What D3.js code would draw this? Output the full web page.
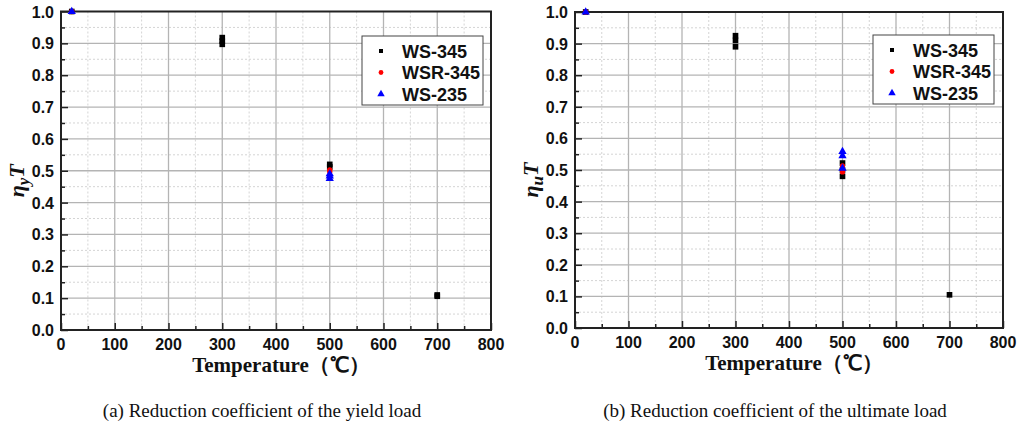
<!DOCTYPE html>
<html>
<head>
<meta charset="utf-8">
<script src="https://cdn.jsdelivr.net/npm/d3@7"></script>
<style>
  body { margin: 0; background: #fff; }
  svg { display: block; }
  .tick-label { font-family: Arial, "Liberation Sans", sans-serif; font-weight: bold; font-size: 16px; fill: #111; }
  .legend-text { font-family: Arial, "Liberation Sans", sans-serif; font-weight: bold; font-size: 18px; fill: #111; }
  .serif { font-family: "Times New Roman", "Liberation Serif", serif; }
</style>
</head>
<body>
<svg id="chart" width="1020" height="427"></svg>
<script>
// axis ticks
const xTicks = [0, 100, 200, 300, 400, 500, 600, 700, 800];
const yTicks = [0.0, 0.1, 0.2, 0.3, 0.4, 0.5, 0.6, 0.7, 0.8, 0.9, 1.0];
const seriesNames = ["WS-345", "WSR-345", "WS-235"];

// (a) yield load reduction coefficient: [temperature, value]
const yieldWS345 = [[20, 1.0], [300, 0.918], [300, 0.907], [300, 0.897], [500, 0.52], [500, 0.512], [700, 0.11], [700, 0.106]];
const yieldWSR345 = [[20, 1.0], [500, 0.503], [500, 0.497]];
const yieldWS235 = [[20, 1.0], [500, 0.49], [500, 0.483], [500, 0.475]];

// (b) ultimate load reduction coefficient
const ultWS345 = [[20, 1.0], [300, 0.925], [300, 0.91], [300, 0.89], [500, 0.522], [500, 0.5], [500, 0.48], [700, 0.105]];
const ultWSR345 = [[20, 1.0], [500, 0.513], [500, 0.494]];
const ultWS235 = [[20, 1.0], [500, 0.558], [500, 0.545], [500, 0.505]];

const colors = ["#000", "#ff0000", "#0000ff"];

const svg = d3.select("#chart");

function drawPanel(opt) {
  const x = d3.scaleLinear().domain([0, 800]).range([opt.left, opt.right]);
  const y = d3.scaleLinear().domain([0, 1]).range([opt.bottom, opt.top]);
  const g = svg.append("g");

  // minor grid (dotted)
  const minorX = d3.range(50, 800, 100);
  const minorY = d3.range(0.05, 1, 0.1);
  g.selectAll(".mgx").data(minorX).enter().append("line")
    .attr("x1", d => x(d)).attr("x2", d => x(d))
    .attr("y1", opt.top).attr("y2", opt.bottom)
    .attr("stroke", "#d4d4d4").attr("stroke-dasharray", "2,2");
  g.selectAll(".mgy").data(minorY).enter().append("line")
    .attr("x1", opt.left).attr("x2", opt.right)
    .attr("y1", d => y(d)).attr("y2", d => y(d))
    .attr("stroke", "#d4d4d4").attr("stroke-dasharray", "2,2");

  // major grid
  g.selectAll(".gx").data(xTicks.slice(1, -1)).enter().append("line")
    .attr("x1", d => x(d)).attr("x2", d => x(d))
    .attr("y1", opt.top).attr("y2", opt.bottom)
    .attr("stroke", "#b4b4b4").attr("stroke-width", 1.3);
  g.selectAll(".gy").data(yTicks.slice(1, -1)).enter().append("line")
    .attr("x1", opt.left).attr("x2", opt.right)
    .attr("y1", d => y(d)).attr("y2", d => y(d))
    .attr("stroke", "#b4b4b4").attr("stroke-width", 1.3);

  // axes with inward ticks
  const xAxis = d3.axisBottom(x).tickValues(d3.range(0, 801, 50)).tickSize(-6).tickFormat("");
  const yAxis = d3.axisLeft(y).tickValues(d3.range(0, 1.001, 0.05)).tickSize(-6).tickFormat("");
  const gx = g.append("g").attr("transform", `translate(0,${opt.bottom})`).call(xAxis);
  const gy = g.append("g").attr("transform", `translate(${opt.left},0)`).call(yAxis);
  [gx, gy].forEach(a => {
    a.select(".domain").remove();
    a.selectAll(".tick line").attr("stroke", "#222").attr("stroke-width", 1.5);
  });
  gx.selectAll(".tick line").attr("y2", (d) => d % 100 === 0 ? -7 : -4);
  gy.selectAll(".tick line").attr("x2", (d) => Math.round(d * 100) % 10 === 0 ? 7 : 4);

  // frame
  g.append("rect")
    .attr("x", opt.left).attr("y", opt.top)
    .attr("width", opt.right - opt.left).attr("height", opt.bottom - opt.top)
    .attr("fill", "none").attr("stroke", "#222").attr("stroke-width", 2);

  // tick labels
  g.selectAll(".xl").data(xTicks).enter().append("text")
    .attr("class", "tick-label")
    .attr("x", d => x(d)).attr("y", opt.bottom + 20)
    .attr("text-anchor", "middle")
    .text(d => d);
  g.selectAll(".yl").data(yTicks).enter().append("text")
    .attr("class", "tick-label")
    .attr("x", opt.left - 7).attr("y", d => y(d) + 6)
    .attr("text-anchor", "end")
    .text(d => d.toFixed(1));

  // data points
  const sq = d3.symbol().type(d3.symbolSquare).size(32);
  const ci = d3.symbol().type(d3.symbolCircle).size(22);
  const tr = d3.symbol().type(d3.symbolTriangle).size(30);
  const shapes = [sq, ci, tr];
  opt.series.forEach((s, i) => {
    g.selectAll(null).data(s).enter().append("path")
      .attr("d", shapes[i])
      .attr("transform", d => `translate(${x(d[0])},${y(d[1])})`)
      .attr("fill", colors[i]);
  });

  // legend
  const lg = g.append("g").attr("transform", `translate(${opt.legendX},${opt.legendY})`);
  lg.append("rect").attr("width", 121).attr("height", 69)
    .attr("fill", "#fff").attr("stroke", "#444").attr("stroke-width", 1);
  seriesNames.forEach((n, i) => {
    const yy = 15 + i * 21.5;
    const sym = [d3.symbol().type(d3.symbolSquare).size(16),
                 d3.symbol().type(d3.symbolCircle).size(18),
                 d3.symbol().type(d3.symbolTriangle).size(24)][i];
    lg.append("path").attr("d", sym).attr("transform", `translate(19,${yy})`).attr("fill", colors[i]);
    lg.append("text").attr("class", "legend-text").attr("x", 40).attr("y", yy + 6.5).text(n);
  });

  // y axis title: eta with subscript, T
  const yt = g.append("text")
    .attr("class", "serif")
    .attr("transform", `translate(${opt.ytitleX},${(opt.top + opt.bottom) / 2 + 10}) rotate(-90)`)
    .attr("text-anchor", "middle")
    .attr("font-size", 22).attr("font-style", "italic").attr("font-weight", "bold").attr("fill", "#111");
  yt.append("tspan").text("η");
  yt.append("tspan").attr("dy", 5).attr("font-size", 17).text(opt.sub);
  yt.append("tspan").attr("dy", -5).text("T");

  // x axis title
  g.append("text").attr("class", "serif")
    .attr("x", (opt.left + opt.right) / 2 + 5).attr("y", opt.bottom + 42)
    .attr("text-anchor", "middle")
    .attr("font-size", 21).attr("font-weight", "bold").attr("fill", "#111")
    .text("Temperature（℃）");

  // caption
  g.append("text").attr("class", "serif")
    .attr("x", opt.captionX).attr("y", 417)
    .attr("text-anchor", "middle")
    .attr("font-size", 19).attr("fill", "#111")
    .text(opt.caption);
}

drawPanel({
  left: 61, right: 491, top: 11.5, bottom: 330,
  series: [yieldWS345, yieldWSR345, yieldWS235],
  legendX: 362, legendY: 36, sub: "y", ytitleX: 24,
  captionX: 262, caption: "(a) Reduction coefficient of the yield load"
});
drawPanel({
  left: 575, right: 1003, top: 12, bottom: 328,
  series: [ultWS345, ultWSR345, ultWS235],
  legendX: 873, legendY: 35, sub: "u", ytitleX: 538,
  captionX: 775, caption: "(b) Reduction coefficient of the ultimate load"
});
</script>
</body>
</html>
